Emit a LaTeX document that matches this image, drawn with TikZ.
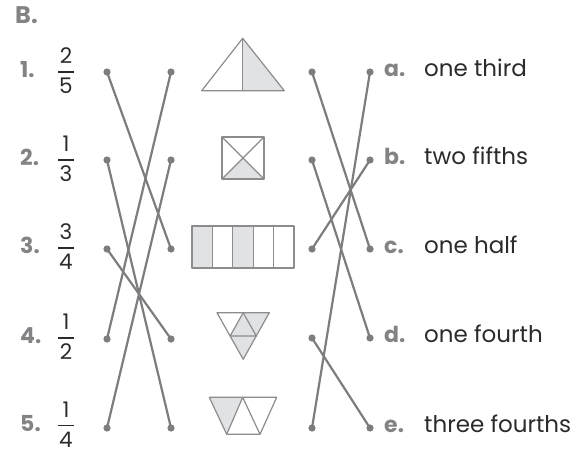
\documentclass[tikz,border=0pt]{standalone}
\usepackage{fontspec}
\setmainfont{Poppins}
\definecolor{lineg}{HTML}{7D7D7F}
\definecolor{labg}{HTML}{838385}
\definecolor{shapeg}{HTML}{8C8C8E}
\definecolor{shadeg}{HTML}{E1E2E4}
\definecolor{txt}{HTML}{2B2B2B}
\begin{document}
\begin{tikzpicture}[x=1pt,y=-1pt,
  dot/.style={circle,fill=lineg,inner sep=0pt,minimum size=7.2pt},
  conn/.style={draw=lineg,line width=2.2pt},
  numlab/.style={anchor=base west,text=labg,font=\fontsize{22}{22}\selectfont\bfseries,inner sep=0pt},
  letlab/.style={anchor=base west,text=labg,font=\fontsize{22}{22}\selectfont\bfseries,inner sep=0pt},
  word/.style={anchor=base west,text=txt,font=\fontsize{23}{23}\selectfont,inner sep=0pt},
  digit/.style={anchor=base,text=txt,font=\fontsize{21.5}{21.5}\selectfont,inner sep=0pt},
  bar/.style={draw=txt,line width=1.2pt},
  pic/.style={draw=shapeg,line width=1.2pt,line join=round},
  shade/.style={fill=shadeg}]
\useasboundingbox (0,0) rectangle (588,452);

\node[numlab,font=\fontsize{24}{24}\selectfont\bfseries] (B) at (15,24) {B.};

% row labels and fractions
\foreach \i/\y/\n/\d in {1/72/2/5, 2/160/1/3, 3/248/3/4, 4/338/1/2, 5/425.5/1/4}{
  \node[numlab] (n\i) at (20,\y+5.5) {\i.};
  \node[digit] (num\i) at (66,\y-8.5) {\n};
  \node[digit] (den\i) at (66,\y+21.5) {\d};
  \draw[bar] (58,\y) -- (74,\y);
}

% right labels
\foreach \l/\y/\t in {a/72/one third, b/160/two fifths, c/249/one half, d/338/one fourth, e/428/three fourths}{
  \node[letlab] (lab\l) at (384,\y+4) {\l.};
  \node[word] (w\l) at (424,\y+4) {\t};
}

% dots
\foreach \i/\y in {1/72,2/160,3/249,4/339,5/428}{
  \node[dot] (L\i) at (107,\y) {};
  \node[dot] (M\i) at (171,\y) {};
}
\foreach \i/\l/\y in {1/a/72,2/b/160,3/c/249,4/d/338,5/e/428}{
  \node[dot] (R\i) at (312,\y) {};
  \node[dot] (E\l) at (370,\y) {};
}

% connectors
\draw[conn] (L1.center) -- (M3.center);
\draw[conn] (L2.center) -- (M5.center);
\draw[conn] (L3.center) -- (M4.center);
\draw[conn] (L4.center) -- (M1.center);
\draw[conn] (L5.center) -- (M2.center);
\draw[conn] (R1.center) -- (Ec.center);
\draw[conn] (R2.center) -- (Ed.center);
\draw[conn] (R3.center) -- (Eb.center);
\draw[conn] (R4.center) -- (Ee.center);
\draw[conn] (R5.center) -- (Ea.center);

% picture 1: half triangle
\fill[shade] (242.7,38.3) -- (242.7,90.7) -- (284.3,90.7) -- cycle;
\draw[pic] (242.7,38.3) -- (201.7,90.7) -- (284.3,90.7) -- cycle;
\draw[pic] (242.7,38.3) -- (242.7,90.7);

% picture 2: square with X
\fill[shade] (222,179) -- (264,179) -- (243,158) -- cycle;
\draw[pic] (222,137) rectangle (264,179);
\draw[pic] (222,137) -- (264,179) (264,137) -- (222,179);

% picture 3: five columns
\fill[shade] (192,226) rectangle (212.4,268);
\fill[shade] (232.8,226) rectangle (253.2,268);
\draw[pic] (192,226) rectangle (294,268);
\foreach \x in {212.4,232.8,253.2,273.6}{\draw[pic] (\x,226) -- (\x,268);}

% picture 4: inverted triangle in four
\fill[shade] (243.2,312.7) -- (269.3,312.7) -- (243.2,359.3) -- (230.1,336) -- cycle;
\draw[pic] (217,312.7) -- (269.3,312.7) -- (243.2,359.3) -- cycle;
\draw[pic] (230.1,336) -- (256.3,336) -- (243.2,312.7) -- cycle;

% picture 5: trapezoid of three triangles
\fill[shade] (209.3,397.3) -- (242.7,397.3) -- (226.7,434.3) -- cycle;
\draw[pic] (209.3,397.3) -- (276.7,397.3) -- (260,434.3) -- (226.7,434.3) -- cycle;
\draw[pic] (226.7,434.3) -- (242.7,397.3) -- (260,434.3);
\end{tikzpicture}
\end{document}
